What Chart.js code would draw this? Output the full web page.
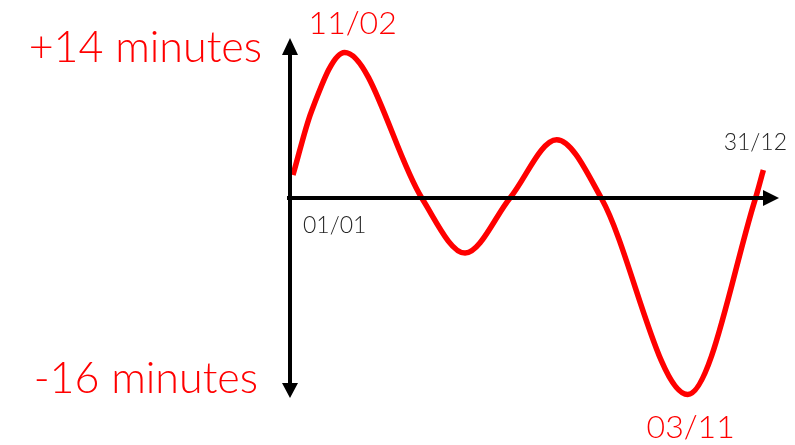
<!DOCTYPE html>
<html>
<head>
<meta charset="utf-8">
<script src="https://cdn.jsdelivr.net/npm/chart.js@4.4.1/dist/chart.umd.min.js"></script>
<style>
  html, body { margin: 0; padding: 0; background: #ffffff; }
  #wrap { position: relative; width: 795px; height: 445px; }
</style>
</head>
<body>
<div id="wrap"><canvas id="eot"></canvas></div>
<script>
// equation of time, schematic as drawn: extremes and zero crossings (day of year -> minutes)
const dayOfYear = [1.5, 15.7, 41.4, 100.9, 134.3, 169, 205, 239.8, 306.1, 358, 364.5];
const offsetMin = [2.2, 8.3, 14.0, 0, -5.3, 0, 5.6, -0.1, -18.9, -0.2, 2.7];

const extremeLabels = ['+14 minutes', '-16 minutes'];
const dateLabels = ['01/01', '11/02', '03/11', '31/12'];

const RED = '#ff0000';
const FONT = 'Lato, "Open Sans", sans-serif';

const points = dayOfYear.map((d, i) => ({ x: d, y: offsetMin[i] }));

// axes with arrows + labels, drawn from the scales
const axesPlugin = {
  id: 'arrowAxes',
  afterDatasetsDraw(chart) {
    const { ctx, scales: { x, y } } = chart;
    const x0 = x.getPixelForValue(0) - 1;
    const y0 = y.getPixelForValue(0);
    const top = chart.chartArea.top;
    const bottom = chart.chartArea.bottom;
    const right = x.getPixelForValue(365) + 15;

    ctx.save();
    ctx.strokeStyle = '#000000';
    ctx.fillStyle = '#000000';
    ctx.lineWidth = 4;
    ctx.beginPath();
    ctx.moveTo(x0, top + 10);
    ctx.lineTo(x0, bottom - 10);
    ctx.moveTo(x0 - 3, y0);
    ctx.lineTo(right - 10, y0);
    ctx.stroke();

    // arrow heads
    ctx.beginPath();
    ctx.moveTo(x0, top - 2);
    ctx.lineTo(x0 - 8, top + 15);
    ctx.lineTo(x0 + 8, top + 15);
    ctx.closePath();
    ctx.moveTo(x0, bottom);
    ctx.lineTo(x0 - 8, bottom - 15);
    ctx.lineTo(x0 + 8, bottom - 15);
    ctx.closePath();
    ctx.moveTo(right, y0);
    ctx.lineTo(right - 16, y0 - 8);
    ctx.lineTo(right - 16, y0 + 8);
    ctx.closePath();
    ctx.fill();

    // extreme labels
    ctx.fillStyle = RED;
    ctx.textBaseline = 'alphabetic';
    ctx.font = '300 43px ' + FONT;
    ctx.textAlign = 'right';
    ctx.fillText(extremeLabels[0], x0 - 28, top + 22);
    ctx.fillText(extremeLabels[1], x0 - 32, bottom - 5);

    // date labels
    const peak = points[2];
    const trough = points[8];
    ctx.textAlign = 'center';
    ctx.font = '300 32px ' + FONT;
    ctx.fillText(dateLabels[1], x.getPixelForValue(peak.x) + 8, 34);
    ctx.fillText(dateLabels[2], x.getPixelForValue(trough.x) + 3, 438);

    ctx.fillStyle = '#262626';
    ctx.font = '300 23px ' + FONT;
    ctx.textAlign = 'left';
    ctx.fillText(dateLabels[0], x0 + 13, y0 + 35);
    ctx.textAlign = 'right';
    ctx.fillText(dateLabels[3], x.getPixelForValue(365) + 23, y0 - 48);
    ctx.restore();
  },
};

new Chart(document.getElementById('eot').getContext('2d'), {
  type: 'line',
  data: {
    datasets: [
      {
        label: 'Equation of time',
        data: points,
        borderColor: RED,
        borderWidth: 5.5,
        cubicInterpolationMode: 'monotone',
        pointRadius: 0,
        pointHoverRadius: 0,
        fill: false,
      },
    ],
  },
  options: {
    responsive: true,
    maintainAspectRatio: false,
    animation: false,
    clip: false,
    events: [],
    layout: { padding: { left: 291, right: 31, top: 40, bottom: 47 } },
    plugins: {
      legend: { display: false },
      tooltip: { enabled: false },
    },
    scales: {
      x: { type: 'linear', min: 0, max: 365, display: false },
      y: { type: 'linear', min: -19.23, max: 15.19, display: false },
    },
  },
  plugins: [axesPlugin],
});
</script>
</body>
</html>
